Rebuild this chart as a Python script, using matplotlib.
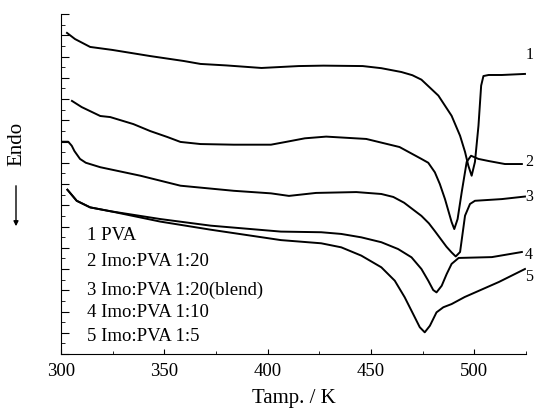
import matplotlib
matplotlib.use("Agg")
import matplotlib.pyplot as plt
from matplotlib.ticker import MultipleLocator, NullFormatter

plt.rcParams['font.family'] = ['Liberation Serif', 'DejaVu Serif']

# DSC traces (y in arbitrary offset units, 0..16)
x1 = [302.9, 306.8, 314.1, 324.8, 343.2, 359.3, 367.5, 380, 397, 415, 427, 446, 455,
      464.7, 470, 474.4, 482.6, 489.0, 493.1, 495.5, 497.1, 498.7, 500.3, 502.0, 503.3,
      504.4, 506.9, 513.3, 524.5]
y1 = [15.11, 14.82, 14.45, 14.31, 14.02, 13.79, 13.65, 13.58, 13.46, 13.55, 13.57, 13.55, 13.45,
      13.27, 13.12, 12.91, 12.16, 11.21, 10.27, 9.51, 8.86, 8.39, 9.04, 10.74, 12.63,
      13.08, 13.13, 13.13, 13.18]

x2 = [305.3, 310.0, 319.0, 323.8, 335.0, 343.2, 351.5, 357.8, 367.5, 383.6, 401.6, 408.8,
      418.0, 428.3, 447.7, 463.8, 474.4, 477.7, 480.9, 483.3, 485.8, 489.0, 490.3, 491.9,
      493.9, 496.3, 498.4, 502.0, 507.0, 514.8, 523.0]
y2 = [11.91, 11.62, 11.20, 11.15, 10.82, 10.49, 10.21, 9.98, 9.88, 9.85, 9.85, 9.98,
      10.15, 10.23, 10.12, 9.74, 9.18, 9.00, 8.55, 8.00, 7.29, 6.21, 5.88, 6.35,
      7.62, 9.04, 9.33, 9.18, 9.08, 8.94, 8.94]

x3 = [300.3, 303.5, 305.2, 306.5, 309.2, 312.0, 319.0, 338.4, 357.8, 383.6, 401.6, 410.3,
      423.4, 442.9, 455.0, 460.8, 466.0, 471.0, 474.4, 478.0, 481.0, 486.5, 489.0, 491.0,
      493.1, 495.5, 497.9, 500.3, 513.3, 524.5]
y3 = [9.99, 9.99, 9.80, 9.55, 9.18, 9.00, 8.79, 8.39, 7.92, 7.68, 7.56, 7.44,
      7.58, 7.62, 7.53, 7.39, 7.12, 6.75, 6.50, 6.15, 5.77, 5.05, 4.78, 4.59,
      4.80, 6.51, 7.06, 7.21, 7.29, 7.41]

x4 = [303.1, 307.6, 314.1, 323.8, 348.1, 372.4, 406.4, 425.9, 435.6, 445.3, 455.0, 463.1,
      469.6, 474.4, 477.7, 480.1, 481.7, 484.2, 486.6, 489.0, 492.4, 508.5, 523.0]
y4 = [7.73, 7.21, 6.90, 6.72, 6.35, 6.04, 5.76, 5.73, 5.65, 5.49, 5.26, 4.94,
      4.55, 4.00, 3.45, 3.01, 2.90, 3.21, 3.76, 4.24, 4.52, 4.56, 4.80]

x5 = [303.1, 307.6, 314.1, 323.8, 348.1, 372.4, 406.4, 425.9, 435.6, 445.3, 455.0, 461.5,
      466.3, 470.4, 473.6, 476.0, 478.5, 481.7, 485.0, 489.0, 495.3, 511.9, 524.5]
y5 = [7.73, 7.21, 6.90, 6.72, 6.23, 5.85, 5.36, 5.21, 5.02, 4.63, 4.08, 3.45,
      2.67, 1.88, 1.26, 1.02, 1.33, 1.96, 2.20, 2.35, 2.68, 3.39, 4.00]

curves = [(x1, y1), (x2, y2), (x3, y3), (x4, y4), (x5, y5)]
tags = ['1', '2', '3', '4', '5']
tag_y = [14.12, 9.08, 7.44, 4.71, 3.67]
legend_lines = ['1 PVA', '2 Imo:PVA 1:20', '3 Imo:PVA 1:20(blend)',
                '4 Imo:PVA 1:10', '5 Imo:PVA 1:5']
legend_y = [5.60, 4.38, 3.02, 1.98, 0.85]

fig = plt.figure(figsize=(5.35, 4.1), dpi=100)
ax = fig.add_axes([61 / 535, 55 / 410, 465 / 535, 340 / 410])

for (xs, ys) in curves:
    ax.plot(xs, ys, color='black', lw=1.4, solid_joinstyle='round')

for t, ty in zip(tags, tag_y):
    ax.text(524.6, ty, t, fontsize=11.5, ha='left', va='center', clip_on=False)

for line, ly in zip(legend_lines, legend_y):
    ax.text(312.6, ly, line, fontsize=13.5, ha='left', va='center')

ax.set_xlim(300, 525)
ax.set_ylim(0, 16)
ax.spines['top'].set_visible(False)
ax.spines['right'].set_visible(False)

ax.xaxis.set_major_locator(MultipleLocator(50))
ax.xaxis.set_minor_locator(MultipleLocator(25))
ax.yaxis.set_major_locator(MultipleLocator(1))
ax.yaxis.set_minor_locator(MultipleLocator(0.5))
ax.yaxis.set_major_formatter(NullFormatter())
ax.tick_params(axis='x', which='major', direction='in', length=3.5, labelsize=13.5, pad=6)
ax.tick_params(axis='x', which='minor', direction='in', length=2)
ax.tick_params(axis='y', which='major', direction='in', length=5.5)
ax.tick_params(axis='y', which='minor', direction='in', length=3)

ax.set_xlabel('Tamp. / K', fontsize=15, labelpad=6)

# "Endo" label with downward arrow
fig.text(17 / 535, 1 - 144 / 410, 'Endo', rotation=90, fontsize=15, ha='center', va='center')
fig.add_artist(matplotlib.patches.FancyArrowPatch(
    (16 / 535, 1 - 184 / 410), (16 / 535, 1 - 230 / 410),
    transform=fig.transFigure, arrowstyle='-|>', mutation_scale=7, lw=1, color='black'))

plt.savefig('out.png', dpi=100)
